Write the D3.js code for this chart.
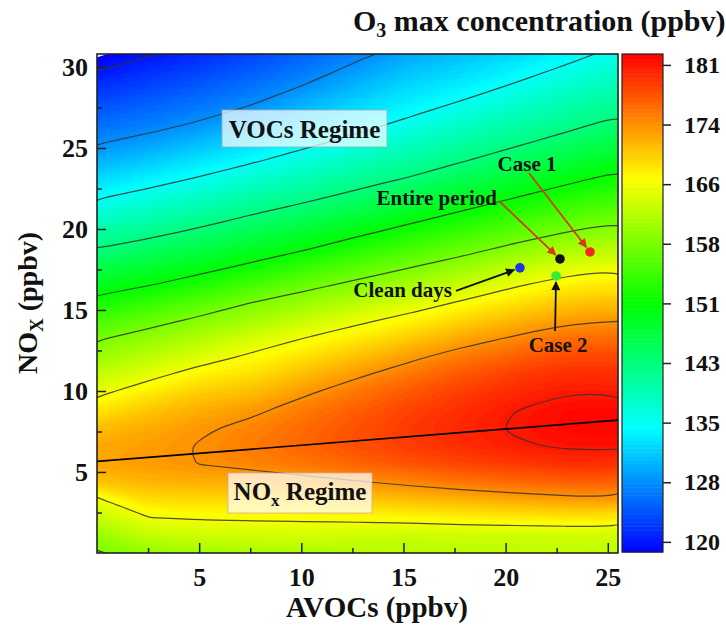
<!DOCTYPE html>
<html>
<head>
<meta charset="utf-8"/>
<title>O3 isopleth</title>
<script src="https://d3js.org/d3.v7.min.js" charset="utf-8"></script>
<style>
  body { margin: 0; background: #fff; }
  text { font-family: "Liberation Serif", "Times New Roman", serif; font-weight: bold; fill: #111; }
</style>
</head>
<body>
<script>
  // grid: AVOCs columns x NOx rows (ppbv)
  var avocGrid = [0, 2.55, 5.1, 7.65, 10.2, 12.75, 15.3, 17.85, 20.4, 22.95, 25.5];
  var noxGrid = [0, 1.1, 2.2, 3.3, 4.4, 5.5, 6.6, 7.7, 8.8, 9.9, 11, 12.1, 13.2, 14.3, 15.4,
                 16.5, 17.6, 18.7, 19.8, 20.9, 22, 23.1, 24.2, 25.3, 26.4, 27.5, 28.6, 29.7, 30.8];
  // one array per AVOCs column, O3 values from NOx=0 upwards
  var o3 = [
    [158.0,160.2,162.9,165.5,170.3,172.4,172.0,170.6,168.2,165.2,162.8,160.4,158.0,155.0,152.0,149.0,146.1,143.2,140.4,137.6,134.9,132.4,129.9,127.5,125.6,123.8,121.9,120.0,118.2], // 0
    [160.0,162.9,165.9,168.9,171.4,172.8,172.75,171.9,170.2,167.8,165.0,162.4,159.9,157.1,153.9,150.6,147.7,144.8,141.96,139.23,136.51,133.89,131.36,128.82,126.72,124.99,123.26,121.53,119.8], // 2.55
    [160.8,163.5,166.3,169.0,171.6,173.65,173.75,173.2,171.8,169.9,167.4,164.5,161.9,159.2,156.1,152.7,149.5,146.6,143.7,141.01,138.34,135.66,133.15,130.66,128.17,126.31,124.62,122.92,121.23], // 5.1
    [161.2,163.8,166.4,169.2,172.0,174.4,175.0,174.4,173.0,170.8,168.65,166.55,164.2,161.2,158.5,155.1,151.6,148.6,145.75,142.95,140.29,137.63,135.0,132.66,130.32,127.97,126.22,124.57,122.92], // 7.65
    [161.5,164.0,166.5,169.5,172.6,175.35,176.4,176.05,175.0,173.15,170.9,168.5,166.1,163.3,160.4,157.3,153.95,150.6,147.7,144.8,142.03,139.49,136.96,134.56,132.43,130.3,128.17,126.4,124.75], // 10.2
    [161.8,163.5,166.8,170.1,173.4,176.4,177.7,177.6,176.8,175.3,173.1,170.6,168.0,165.35,162.35,159.35,156.2,153.0,149.8,146.9,144.0,141.4,138.96,136.52,134.35,132.46,130.57,128.68,126.9], // 12.75
    [162.0,163.4,167.07,170.7,174.4,177.4,178.9,179.05,178.4,177.2,175.3,172.8,170.0,167.2,164.3,161.25,158.25,155.1,152.0,149.0,146.1,143.2,140.84,138.5,136.19,134.28,132.64,131.0,129.35], // 15.3
    [162.2,163.6,167.5,171.4,175.3,178.3,179.95,180.3,179.85,178.8,177.2,175.05,172.2,169.35,166.4,163.35,160.25,157.15,154.15,151.15,148.3,145.5,142.75,140.52,138.29,136.05,134.13,132.37,130.61], // 17.85
    [162.4,163.6,167.83,172.08,176.1,179.0,180.9,181.45,181.15,180.15,178.7,176.65,174.05,171.25,168.45,165.6,162.5,159.4,156.3,153.3,150.35,147.6,144.9,142.37,140.25,138.13,136.0,134.08,132.27], // 20.4
    [162.5,163.62,168.18,172.72,176.7,179.85,181.5,182.2,182.0,181.15,179.9,178.15,175.85,173.05,170.25,167.45,164.5,161.4,158.25,155.35,152.45,149.65,147.0,144.4,142.04,140.05,138.06,136.06,134.14], // 22.95
    [162.6,163.78,168.45,173.1,176.9,179.8,181.6,182.4,182.3,181.1,179.9,178.2,176.1,173.55,170.9,168.3,165.65,162.75,159.85,157.0,154.3,151.6,149.0,146.55,144.05,141.91,140.0,138.1,136.22]  // 25.5
  ];

  var lineLevels = [120, 127.65, 135.3, 142.95, 150.6, 158.25, 165.9, 173.55, 181.2];
  var colorTicks = [120, 127.65, 135.3, 142.95, 150.6, 158.25, 165.9, 173.55, 181.2];
  var colorRange = [118.7, 182.6];

  // ridge line (max O3 for each AVOCs)
  var ridgeAvoc = [0, 25.5];
  var ridgeNox = [5.65, 8.2];

  var caseNames = ["Clean days", "Entire period", "Case 1", "Case 2"];
  var caseAvoc = [20.7, 22.66, 24.13, 22.47];
  var caseNox = [17.6, 18.15, 18.58, 17.1];

  var xTicks = [5, 10, 15, 20, 25], xMinor = [2.5, 7.5, 12.5, 17.5, 22.5];
  var yTicks = [5, 10, 15, 20, 25, 30], yMinor = [2.5, 7.5, 12.5, 17.5, 22.5, 27.5];

  // layout
  var caseColors = ["#2233e8", "#111111", "#f02a22", "#33ee33"];
  var arrowColors = ["#111", "#d8381c", "#d8381c", "#111"];
  // label anchor, arrow start: pixel offsets from the point
  var caseLabel = [
    {dx: -68, dy: 29, anchor: "end", ax: -64, ay: 23},
    {dx: -63, dy: -54, anchor: "end", ax: -61, ay: -58},
    {dx: -63, dy: -81, anchor: "middle", ax: -61, ay: -79},
    {dx: 2, dy: 76, anchor: "middle", ax: -1, ay: 55}
  ];

  var svg = d3.select("body").append("svg")
      .attr("width", 726)
      .attr("height", 627);

  var x = d3.scaleLinear().domain(d3.extent(avocGrid)).range([97, 618]);
  var y = d3.scaleLinear().domain(d3.extent(noxGrid)).range([553, 54]);

  var color = d3.scaleSequential(d3.interpolateHslLong("hsl(240,100%,50%)", "hsl(0,100%,50%)"))
      .domain(colorRange).clamp(true);

  svg.append("clipPath").attr("id", "plotclip")
    .append("rect")
      .attr("x", x(0)).attr("y", y(30.8))
      .attr("width", x(25.5) - x(0)).attr("height", y(0) - y(30.8));

  var plot = svg.append("g").attr("clip-path", "url(#plotclip)");

  // flatten the grid the way d3.contours wants it
  var nx = avocGrid.length, ny = noxGrid.length;
  var values = new Array(nx * ny);
  for (var j = 0; j < ny; j++) {
    for (var i = 0; i < nx; i++) {
      values[i + j * nx] = o3[i][j];
    }
  }
  var gx = d3.scaleLinear().domain([0.5, nx - 0.5]).range([x(avocGrid[0]), x(avocGrid[nx - 1])]);
  var gy = d3.scaleLinear().domain([0.5, ny - 0.5]).range([y(noxGrid[0]), y(noxGrid[ny - 1])]);

  var ring = d3.line().curve(d3.curveBasisClosed);
  function contourPath(g) {
    var s = "";
    g.coordinates.forEach(function (poly) {
      poly.forEach(function (r) {
        var pts = r.slice(0, r.length - 1).map(function (p) { return [gx(p[0]), gy(p[1])]; });
        if (pts.length > 2) s += ring(pts);
      });
    });
    return s;
  }

  // filled bands
  var bandLevels = d3.range(118.5, 183, 0.5);
  var bands = d3.contours().size([nx, ny]).thresholds(bandLevels)(values);
  plot.selectAll("path.band")
    .data(bands)
    .join("path")
      .attr("class", "band")
      .attr("d", contourPath)
      .attr("fill", function (d) { return color(d.value + 0.25); })
      .attr("fill-rule", "evenodd");

  // contour lines
  var isos = d3.contours().size([nx, ny]).thresholds(lineLevels)(values);
  plot.selectAll("path.iso")
    .data(isos)
    .join("path")
      .attr("class", "iso")
      .attr("d", contourPath)
      .attr("fill", "none")
      .attr("stroke", "#333")
      .attr("stroke-opacity", 0.85)
      .attr("stroke-width", 1.2);

  // ridge line
  plot.append("path")
    .datum(d3.zip(ridgeAvoc, ridgeNox))
    .attr("d", d3.line().x(function (d) { return x(d[0]); }).y(function (d) { return y(d[1]); }))
    .attr("stroke", "#000")
    .attr("stroke-width", 1.7)
    .attr("fill", "none");

  // regime boxes
  var voc = svg.append("g");
  voc.append("rect").attr("x", 222).attr("y", 110).attr("width", 165).attr("height", 37)
    .attr("fill", "#fff").attr("fill-opacity", 0.72).attr("stroke", "#9ab").attr("stroke-width", 0.8);
  voc.append("text").attr("x", 304.5).attr("y", 138).attr("text-anchor", "middle")
    .style("font-size", "25px").text("VOCs Regime");

  var nox = svg.append("g");
  nox.append("rect").attr("x", 228).attr("y", 473).attr("width", 144).attr("height", 40)
    .attr("fill", "#fff").attr("fill-opacity", 0.72).attr("stroke", "#caa").attr("stroke-width", 0.8);
  var noxText = nox.append("text").attr("x", 300).attr("y", 500).attr("text-anchor", "middle")
    .style("font-size", "25px");
  noxText.append("tspan").text("NO");
  noxText.append("tspan").attr("dy", 6).style("font-size", "17px").text("x");
  noxText.append("tspan").attr("dy", -6).text(" Regime");

  // arrows
  var defs = svg.append("defs");
  arrowColors.forEach(function (c, k) {
    defs.append("marker")
        .attr("id", "head" + k)
        .attr("viewBox", "0 0 10 10")
        .attr("refX", 9).attr("refY", 5)
        .attr("markerUnits", "userSpaceOnUse")
        .attr("markerWidth", 13).attr("markerHeight", 9)
        .attr("orient", "auto")
      .append("path")
        .attr("d", "M0,0L10,5L0,10z")
        .attr("fill", c);
  });

  caseNames.forEach(function (name, k) {
    var px = x(caseAvoc[k]), py = y(caseNox[k]);
    var l = caseLabel[k];
    var sx = px + l.ax, sy = py + l.ay;
    var len = Math.sqrt((px - sx) * (px - sx) + (py - sy) * (py - sy));
    var ex = px - (px - sx) / len * 6, ey = py - (py - sy) / len * 6;
    svg.append("line")
      .attr("x1", sx).attr("y1", sy).attr("x2", ex).attr("y2", ey)
      .attr("stroke", arrowColors[k]).attr("stroke-width", 1.8)
      .attr("marker-end", "url(#head" + k + ")");
    svg.append("text")
      .attr("x", px + l.dx).attr("y", py + l.dy)
      .attr("text-anchor", l.anchor)
      .style("font-size", "21px")
      .text(name);
  });

  svg.selectAll("circle.case")
    .data(caseNames)
    .join("circle")
      .attr("class", "case")
      .attr("cx", function (d, k) { return x(caseAvoc[k]); })
      .attr("cy", function (d, k) { return y(caseNox[k]); })
      .attr("r", 4.8)
      .attr("fill", function (d, k) { return caseColors[k]; });

  // axes, ticks inward
  function styleAxis(g, size) {
    g.select(".domain").remove();
    g.selectAll(".tick line").attr("stroke", "#222").attr("stroke-width", 1.5);
    g.selectAll(".tick text")
      .attr("fill", "#111")
      .style("font-family", "'Liberation Serif', serif")
      .style("font-weight", "bold")
      .style("font-size", size);
  }
  svg.append("g").attr("transform", "translate(0," + y(0) + ")")
    .call(d3.axisBottom(x).tickValues(xTicks).tickSize(-10).tickPadding(15).tickFormat(d3.format("d")))
    .call(styleAxis, "26px");
  svg.append("g").attr("transform", "translate(0," + y(0) + ")")
    .call(d3.axisBottom(x).tickValues(xMinor).tickSize(-5).tickFormat(""))
    .call(styleAxis, "26px");
  svg.append("g").attr("transform", "translate(" + x(0) + ",0)")
    .call(d3.axisLeft(y).tickValues(yTicks).tickSize(-9).tickPadding(9).tickFormat(d3.format("d")))
    .call(styleAxis, "26px");
  svg.append("g").attr("transform", "translate(" + x(0) + ",0)")
    .call(d3.axisLeft(y).tickValues(yMinor).tickSize(-5).tickFormat(""))
    .call(styleAxis, "26px");

  // frame
  svg.append("rect")
    .attr("x", x(0)).attr("y", y(30.8))
    .attr("width", x(25.5) - x(0)).attr("height", y(0) - y(30.8))
    .attr("fill", "none").attr("stroke", "#222").attr("stroke-width", 1.6);

  // axis titles
  svg.append("text").attr("x", 377).attr("y", 617).attr("text-anchor", "middle")
    .style("font-size", "29px").text("AVOCs (ppbv)");
  var yl = svg.append("text").attr("transform", "translate(37,303) rotate(-90)")
    .attr("text-anchor", "middle").style("font-size", "28px");
  yl.append("tspan").text("NO");
  yl.append("tspan").attr("dy", 6).style("font-size", "19px").text("X");
  yl.append("tspan").attr("dy", -6).text(" (ppbv)");

  // color bar
  var cb = d3.scaleLinear().domain(colorRange).range([552, 54]);
  var cbar = svg.append("g");
  var cbLevels = bandLevels.filter(function (t) { return t + 0.5 > colorRange[0] && t < colorRange[1]; });
  cbar.selectAll("rect.step")
    .data(cbLevels)
    .join("rect")
      .attr("class", "step")
      .attr("x", 622).attr("width", 41)
      .attr("y", function (t) { return cb(Math.min(t + 0.5, colorRange[1])); })
      .attr("height", function (t) { return cb(Math.max(t, colorRange[0])) - cb(Math.min(t + 0.5, colorRange[1])) + 0.5; })
      .attr("fill", function (t) { return color(t + 0.25); });
  cbar.append("rect").attr("x", 622).attr("y", 54).attr("width", 41).attr("height", 498)
    .attr("fill", "none").attr("stroke", "#222").attr("stroke-width", 1.2);
  svg.append("g").attr("transform", "translate(663,0)")
    .call(d3.axisRight(cb).tickValues(colorTicks).tickSize(8).tickPadding(13).tickFormat(d3.format(".0f")))
    .call(styleAxis, "24px");

  // title
  var title = svg.append("text").attr("x", 353).attr("y", 31).style("font-size", "30px");
  title.append("tspan").text("O");
  title.append("tspan").attr("dy", 6).style("font-size", "20px").text("3");
  title.append("tspan").attr("dy", -6).text(" max concentration (ppbv)");
</script>
</body>
</html>
